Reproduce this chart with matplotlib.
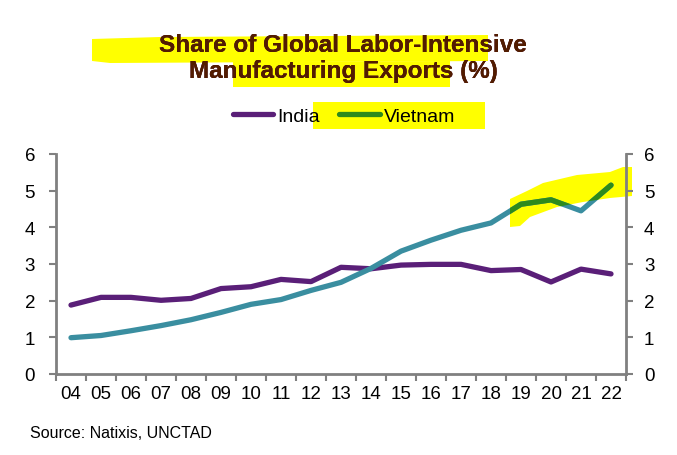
import matplotlib
matplotlib.use("Agg")
import matplotlib.pyplot as plt
from matplotlib.transforms import Affine2D
from matplotlib.patches import Polygon
from matplotlib.lines import Line2D

plt.rcParams['font.family'] = ['Liberation Sans', 'DejaVu Sans']

years = ["04", "05", "06", "07", "08", "09", "10", "11", "12", "13",
         "14", "15", "16", "17", "18", "19", "20", "21", "22"]
india = [1.88, 2.09, 2.09, 2.01, 2.06, 2.33, 2.38, 2.58, 2.52, 2.91,
         2.87, 2.97, 2.99, 2.99, 2.82, 2.85, 2.51, 2.86, 2.73]
vietnam = [0.99, 1.05, 1.18, 1.32, 1.48, 1.68, 1.90, 2.03, 2.28, 2.50,
           2.88, 3.35, 3.65, 3.92, 4.12, 4.63, 4.75, 4.45, 5.15]
yticks = [0, 1, 2, 3, 4, 5, 6]

PURPLE = "#5A1F78"
TEAL = "#3A8EA0"
GREEN = "#2E8A1C"
YELLOW = "#FFFF00"
GRAY = "#808080"

W, H = 677, 456
fig = plt.figure(figsize=(W / 100, H / 100), dpi=100)
px = Affine2D().scale(1 / W, -1 / H).translate(0, 1) + fig.transFigure

ax = fig.add_axes([56 / W, 1 - 375 / H, (626 - 56) / W, (375 - 155) / H])
ax.set_facecolor("none")
x = list(range(len(years)))

# yellow highlighter on the chart (behind the lines)
hl_xy = [(510, 200), (527, 192), (543, 184), (577, 176), (610, 173),
         (623, 168), (632, 168), (632, 197), (610, 199), (583, 203),
         (557, 208), (530, 218), (520, 227), (510, 228)]
hl_plot = Polygon(hl_xy, closed=True, transform=px, facecolor=YELLOW,
                  edgecolor="none", zorder=0.5, clip_on=False)
ax.add_patch(hl_plot)

ax.plot(x, india, color=PURPLE, lw=3.8, solid_capstyle="round", solid_joinstyle="round", zorder=3)
ax.plot(x, vietnam, color=TEAL, lw=3.8, solid_capstyle="round", solid_joinstyle="round", zorder=3)
clip_poly = Polygon(hl_xy, closed=True, transform=px)
vg, = ax.plot(x, vietnam, color=GREEN, lw=3.8, solid_capstyle="round", solid_joinstyle="round", zorder=4)
vg.set_clip_path(clip_poly)

ax.set_xlim(-0.5, len(years) - 0.5)
ax.set_ylim(0, 6)
ax.set_yticks(yticks)
ax.set_xticks(x)
ax.set_xticklabels(years, fontsize=13.5)
ax.set_xticks([i - 0.5 for i in range(len(years) + 1)], minor=True)
ax.tick_params(axis="x", which="major", length=0, pad=8)
ax.tick_params(axis="x", which="minor", length=5, width=1.5, color=GRAY, direction="out")
ax.tick_params(axis="y", length=5, width=1.5, color=GRAY, labelsize=13.5, pad=10)
for s in ["top", "right"]:
    ax.spines[s].set_visible(False)
for s in ["left", "bottom"]:
    ax.spines[s].set_color(GRAY)
    ax.spines[s].set_linewidth(2)

ax2 = ax.twinx()
ax2.set_ylim(0, 6)
ax2.set_yticks(yticks)
ax2.tick_params(axis="y", length=5, width=1.5, color=GRAY, labelsize=13.5, pad=8)
for s in ["top", "left", "bottom"]:
    ax2.spines[s].set_visible(False)
ax2.spines["right"].set_color(GRAY)
ax2.spines["right"].set_linewidth(2)

# title / legend highlighter
hl_t1 = [(92, 40), (160, 38), (488, 36), (488, 62), (300, 63), (110, 64), (92, 62)]
hl_t2 = [(233, 63), (450, 62), (450, 88), (233, 88)]
hl_leg = [(313, 103), (485, 103), (485, 130), (313, 130)]
for xy in (hl_t1, hl_t2, hl_leg):
    fig.patches.append(Polygon(xy, closed=True, transform=px, facecolor=YELLOW,
                               edgecolor="none", zorder=0.5))

title = "Share of Global Labor-Intensive\nManufacturing Exports (%)"
TX, TY, TFS = 343 / W, 1 - 34 / H, 17.5
fig.text(TX, TY, title, ha="center", va="top", fontsize=TFS,
         fontweight="bold", color=PURPLE, linespacing=1.18, zorder=2)
for xy in (hl_t1, hl_t2):
    tb = fig.text(TX, TY, title, ha="center", va="top", fontsize=TFS,
                  fontweight="bold", color="#521C00", linespacing=1.18, zorder=3)
    tb.set_clip_path(Polygon(xy, closed=True, transform=px))

handles = [Line2D([], [], color=PURPLE, lw=3.8, solid_capstyle="round"),
           Line2D([], [], color=GREEN, lw=3.8, solid_capstyle="round")]
leg = fig.legend(handles, ["India", "Vietnam"], loc="center", bbox_to_anchor=(344 / W, 1 - 117 / H),
                 ncol=2, frameon=False, fontsize=14, handlelength=2.1, handletextpad=0.2,
                 columnspacing=1.0, borderaxespad=0)

fig.text(30 / W, 1 - 438 / H, "Source: Natixis, UNCTAD", fontsize=11.5, color="black",
         ha="left", va="baseline")

fig.savefig("out.png", dpi=100)
